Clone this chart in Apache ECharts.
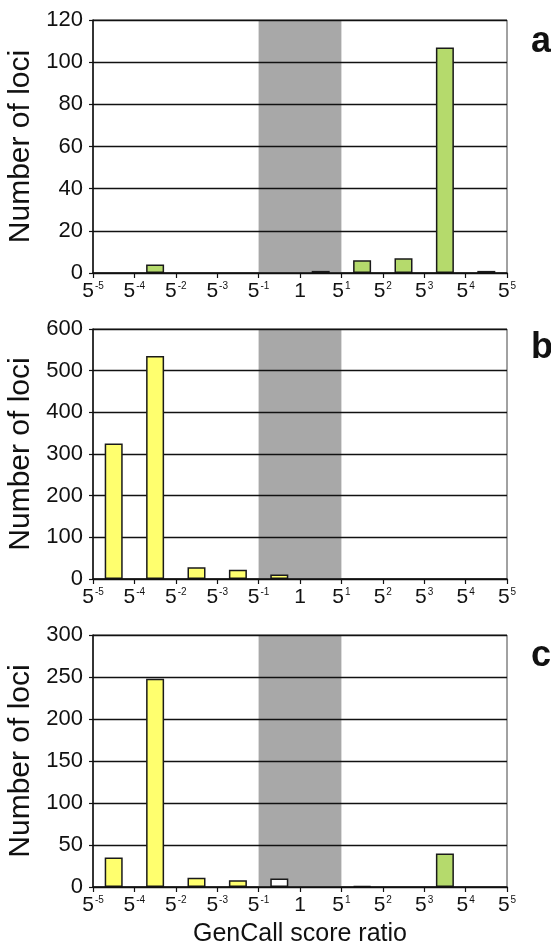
<!DOCTYPE html>
<html>
<head>
<meta charset="utf-8">
<script src="https://cdn.jsdelivr.net/npm/echarts@6/dist/echarts.min.js"></script>
<style>
html,body{margin:0;padding:0;background:#fff;}
#chart{width:551px;height:945px;}
</style>
</head>
<body>
<div id="chart"></div>
<script>
// ---- data ----
const xTickBase = ['5','5','5','5','5','1','5','5','5','5','5'];
const xTickExp  = ['-5','-4','-2','-3','-1','','1','2','3','4','5'];
const lociA = [0, 4, 0, 0, 0, 1, 6, 7, 107, 1];
const lociB = [325, 535, 28, 22, 11, 0, 0, 0, 0, 0];
const lociC = [35, 248, 11, 8, 10, 0, 1, 0, 40, 0];
const classA = ['g','g','g','g','g','g','g','g','g','g'];
const classB = ['y','y','y','y','y','y','y','y','y','y'];
const classC = ['y','y','y','y','w','g','g','g','g','g'];
const panelLetters = ['a', 'b', 'c'];
const yMaxes = [120, 600, 300];
const yIntervals = [20, 100, 50];
const grayZone = [4, 6];
const yName = 'Number of loci';
const xName = 'GenCall score ratio';

// ---- styling ----
const FONT = 'Liberation Sans, Arial, sans-serif';
const classColor = { g: '#b5da6c', y: '#ffff6e', w: '#ffffff' };
const grids = [
  { left: 93, top: 20, width: 414, height: 253 },
  { left: 93, top: 329, width: 414, height: 250 },
  { left: 93, top: 635, width: 414, height: 252 }
];
const letterTops = [19, 325, 633];
const panels = [[lociA, classA], [lociB, classB], [lociC, classC]];

const option = {
  animation: false,
  backgroundColor: '#ffffff',
  title: panelLetters.map((t, i) => ({
    text: t, left: 526, top: letterTops[i],
    textStyle: { fontFamily: FONT, fontSize: 36, fontWeight: 'bold', color: '#111' }
  })),
  grid: grids.map(g => Object.assign({
    show: true, borderColor: '#444', borderWidth: 1, backgroundColor: '#fff',
    containLabel: false, outerBoundsMode: 'none'
  }, g)),
  xAxis: grids.map((g, i) => ({
    type: 'value', gridIndex: i, min: 0, max: 10, interval: 1, z: 3,
    name: i === 2 ? xName : '',
    nameLocation: 'middle', nameGap: 35,
    nameTextStyle: { fontFamily: FONT, fontSize: 25, color: '#111' },
    axisLine: { show: true, onZero: false, lineStyle: { color: '#111', width: 1.5 } },
    axisTick: { show: true, inside: false, length: 5, lineStyle: { color: '#111', width: 1.2 } },
    splitLine: { show: false },
    axisLabel: {
      margin: 8,
      formatter: v => {
        const k = Math.round(v);
        const e = xTickExp[k];
        return e ? '{b|' + xTickBase[k] + '}{s|' + e + '}' : '{b|' + xTickBase[k] + '}';
      },
      rich: {
        b: { fontFamily: FONT, fontSize: 21, color: '#111' },
        s: { fontFamily: FONT, fontSize: 10, color: '#111', padding: [0, 0, 11, 1] }
      }
    }
  })),
  yAxis: grids.map((g, i) => ({
    type: 'value', gridIndex: i, min: 0, max: yMaxes[i], interval: yIntervals[i], z: 1.5,
    name: yName, nameLocation: 'middle', nameGap: 52,
    nameTextStyle: { fontFamily: FONT, fontSize: 30, color: '#111' },
    axisLine: { show: true, lineStyle: { color: '#111', width: 1.5 } },
    axisTick: { show: true, inside: false, length: 4, lineStyle: { color: '#111', width: 1.2 } },
    axisLabel: { margin: 10, fontFamily: FONT, fontSize: 22, color: '#111' },
    splitLine: { show: true, lineStyle: { color: '#111', width: 1.4 } }
  })),
  series: []
};

panels.forEach(([vals, cls], i) => {
  option.series.push({
    type: 'custom', xAxisIndex: i, yAxisIndex: i, z: 1, silent: true,
    data: [[grayZone[0], grayZone[1]]],
    renderItem: (params, api) => {
      const p0 = api.coord([api.value(0), 0]);
      const p1 = api.coord([api.value(1), 0]);
      const cs = params.coordSys;
      return { type: 'rect', shape: { x: p0[0], y: cs.y, width: p1[0] - p0[0], height: cs.height },
               style: { fill: '#a8a8a8' } };
    }
  });
  const data = [];
  vals.forEach((v, k) => {
    if (v > 0) data.push({ value: [k + 0.5, v], itemStyle: { color: classColor[cls[k]] } });
  });
  option.series.push({
    type: 'bar', xAxisIndex: i, yAxisIndex: i, z: 2, barWidth: 18,
    itemStyle: { borderColor: '#1a1a1a', borderWidth: 1.5 },
    data: data
  });
});

const chart = echarts.init(document.getElementById('chart'), null, { renderer: 'canvas' });
chart.setOption(option);
</script>
</body>
</html>
